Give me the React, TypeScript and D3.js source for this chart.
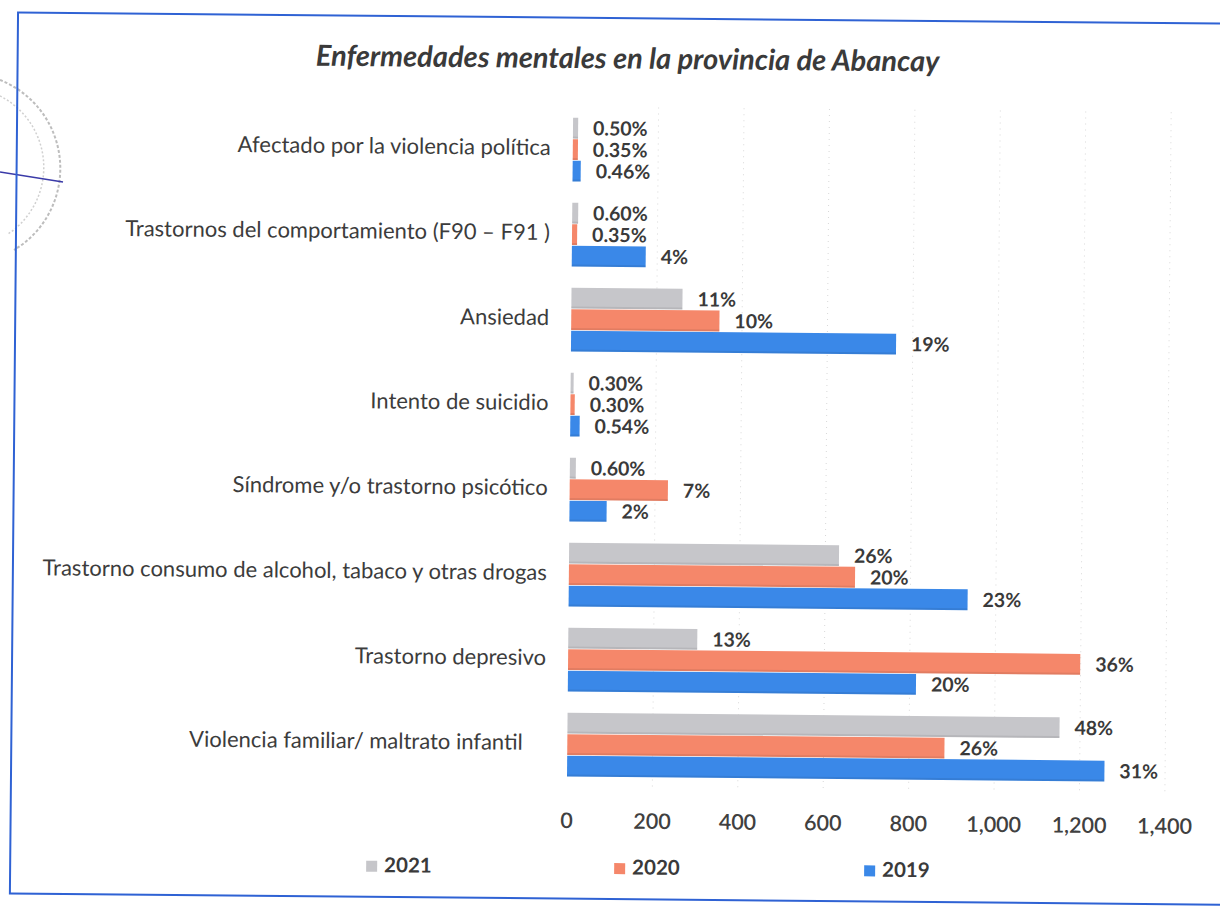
import React from "react";
import * as d3 from "d3";

const categories = [
  "Afectado por la violencia política",
  "Trastornos del comportamiento (F90 – F91 )",
  "Ansiedad",
  "Intento de suicidio",
  "Síndrome y/o trastorno psicótico",
  "Trastorno consumo de alcohol, tabaco y otras drogas",
  "Trastorno depresivo",
  "Violencia familiar/ maltrato infantil    ",
];
const series = ["2021", "2020", "2019"];
const values2021 = [12, 14, 260, 7, 14, 632, 302, 1152];
const values2020 = [12, 12, 347, 10, 230, 670, 1199, 883];
const values2019 = [19, 173, 761, 22, 87, 934, 815, 1258];
const labels2021 = ["0.50%", "0.60%", "11%", "0.30%", "0.60%", "26%", "13%", "48%"];
const labels2020 = ["0.35%", "0.35%", "10%", "0.30%", "7%", "20%", "36%", "26%"];
const labels2019 = ["0.46%", "4%", "19%", "0.54%", "2%", "23%", "20%", "31%"];
const ticks = [0, 200, 400, 600, 800, 1000, 1200, 1400];
const colors = ["#c6c6ca", "#f5876a", "#3a88e8"];

const valuesBySeries = [values2021, values2020, values2019];
const labelsBySeries = [labels2021, labels2020, labels2019];

export default function App() {
  const x = d3.scaleLinear().domain([0, 1400]).range([570, 1168]);
  const y = d3
    .scaleBand<string>()
    .domain(categories)
    .range([107.5, 787.5])
    .paddingInner(0.25)
    .paddingOuter(0.125);
  const ySub = d3
    .scaleBand<string>()
    .domain(series)
    .range([0, y.bandwidth()])
    .paddingInner(0.03);
  const fmt = d3.format(",");
  const font = "Lato, 'Open Sans', sans-serif";

  return (
    <div style={{ position: "absolute", left: 0, top: 0 }}>
      <svg width={1220} height={906} style={{ display: "block", background: "#fff" }}>
        <path d="M0,80 A95,95 0 0 1 14,250" fill="none" stroke="#bdbdbd" strokeWidth={2} strokeDasharray="3,2" />
        <path d="M0,96 A80,80 0 0 1 8,234" fill="none" stroke="#d0d0d0" strokeWidth={1.5} strokeDasharray="2,2" />
        <line x1={0} y1={172} x2={63} y2={182} stroke="#3a3aa8" strokeWidth={1.5} />
        <g transform="rotate(0.53, 610, 453)">
          <rect x={14} y={18} width={1240} height={881} fill="none" stroke="#2f62d4" strokeWidth={2} />
          <text
            x={624}
            y={61}
            textAnchor="middle"
            dominantBaseline="middle"
            fontFamily={font}
            fontStyle="italic"
            fontWeight={700}
            fontSize={29}
            fill="#3a3a3a"
          >
            Enfermedades mentales en la provincia de Abancay
          </text>
          {ticks.slice(1).map((t) => (
            <line
              key={"g" + t}
              x1={x(t)}
              x2={x(t)}
              y1={107}
              y2={788}
              stroke="#d8d8d8"
              strokeWidth={1}
              strokeDasharray="1,5"
            />
          ))}
          {ticks.map((t) => (
            <text
              key={"t" + t}
              x={x(t)}
              y={823}
              textAnchor="middle"
              dominantBaseline="middle"
              fontFamily={font}
              fontWeight={600}
              fontSize={21.5}
              fill="#404040"
            >
              {fmt(t)}
            </text>
          ))}
          {categories.map((c, i) => (
            <g key={c}>
              <text
                x={548}
                y={(y(c) as number) + y.bandwidth() / 2}
                textAnchor="end"
                dominantBaseline="middle"
                fontFamily={font}
                fontSize={22}
                fill="#3c3c3c"
                style={{ whiteSpace: "pre" }}
              >
                {c}
              </text>
              {series.map((s, j) => {
                const v = valuesBySeries[j][i];
                const by = (y(c) as number) + (ySub(s) as number);
                return (
                  <g key={s}>
                    <rect
                      x={x(0)}
                      y={by}
                      width={x(v) - x(0)}
                      height={ySub.bandwidth()}
                      fill={colors[j]}
                    />
                    <rect
                      x={x(0)}
                      y={by + ySub.bandwidth() - 2}
                      width={x(v) - x(0)}
                      height={2}
                      fill="#000"
                      opacity={0.08}
                    />
                    <text
                      x={x(v) + 15}
                      y={by + ySub.bandwidth() / 2 + 2}
                      dominantBaseline="middle"
                      fontFamily={font}
                      fontWeight={700}
                      fontSize={19.5}
                      fill="#3a3a3a"
                    >
                      {labelsBySeries[j][i]}
                    </text>
                  </g>
                );
              })}
            </g>
          ))}
          {series.map((s, j) => {
            const lx = [370, 618, 868][j];
            return (
              <g key={"leg" + s}>
                <rect x={lx} y={863} width={11} height={11} fill={colors[j]} />
                <text
                  x={lx + 18}
                  y={869}
                  dominantBaseline="middle"
                  fontFamily={font}
                  fontWeight={700}
                  fontSize={20.5}
                  fill="#3a3a3a"
                >
                  {s}
                </text>
              </g>
            );
          })}
        </g>
      </svg>
    </div>
  );
}
